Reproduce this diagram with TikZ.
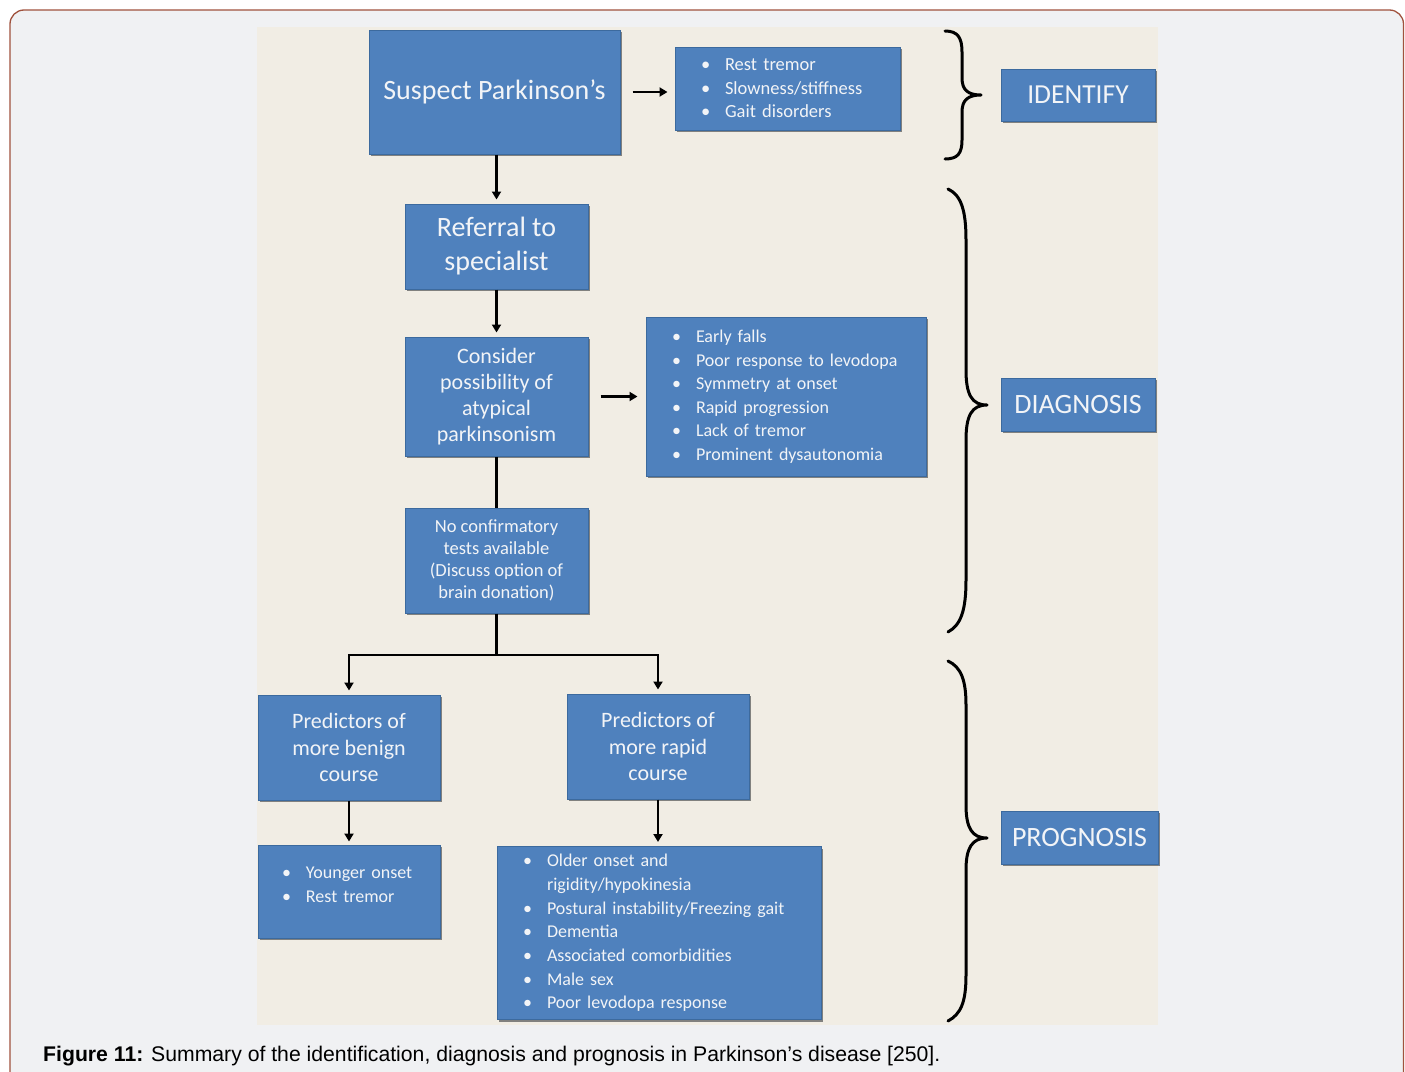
\documentclass[tikz,border=0pt]{standalone}
\usepackage{fontspec}
\setmainfont{Carlito}
\newfontfamily\capfont{Liberation Sans}
\usetikzlibrary{arrows.meta,shadows}
\definecolor{boxblue}{HTML}{4F81BD}
\definecolor{boxedge}{HTML}{3C6A9E}
\definecolor{panel}{HTML}{F1EDE4}
\definecolor{pagebg}{HTML}{F0F1F3}
\definecolor{framecol}{HTML}{A0523D}
\definecolor{boxtext}{HTML}{F2F4F7}
\newcommand{\bul}[1]{\makebox[24pt][l]{•}\mbox{#1}}
\begin{document}
\begin{tikzpicture}[x=1pt,y=-1pt,
  box/.style={draw=boxedge, line width=1pt, fill=boxblue, text=boxtext, align=center, inner sep=3pt,
    drop shadow={shadow xshift=1.5pt,shadow yshift=-2pt,fill=black!60,opacity=0.8}},
  listbox/.style={box, align=left, inner xsep=26pt, inner ysep=3pt},
  arr/.style={line width=2.4pt, -{Triangle[length=8pt,width=9pt]}},
  conn/.style={line width=2.4pt},
  brace/.style={line width=3pt, line cap=round, line join=round}
]
\useasboundingbox (0,0) rectangle (1405,1071);
% page and panel
\draw[framecol, fill=pagebg, line width=1.3pt, rounded corners=14pt] (10,10) rectangle (1403.5,1100);
\fill[panel] (257,27) rectangle (1158,1025);

% nodes
\node[box, minimum width=251, minimum height=124, font=\fontsize{28}{34}\selectfont] (suspect) at (494.5,92) {Suspect Parkinson’s};
\node[listbox, text width=173pt, minimum height=83, font=\fontsize{18.5}{23.5}\selectfont] (sympt) at (787.5,88.5)
  {\bul{Rest tremor}\\\bul{Slowness/stiffness}\\\bul{Gait disorders}};
\node[box, minimum width=154, minimum height=52, font=\fontsize{27.5}{30}\selectfont] (identify) at (1078,95) {IDENTIFY};

\node[box, minimum width=183, minimum height=85, font=\fontsize{28}{34}\selectfont] (referral) at (496.5,246.5) {Referral to\\specialist};
\node[box, minimum width=183, minimum height=119, font=\fontsize{22}{26}\selectfont] (consider) at (496.5,396.5)
  {Consider\\possibility of\\atypical\\parkinsonism};
\node[listbox, text width=228pt, minimum height=159, font=\fontsize{18}{23.5}\selectfont] (atyp) at (786,396.5)
  {\bul{Early falls}\\\bul{Poor response to levodopa}\\\bul{Symmetry at onset}\\\bul{Rapid progression}\\\bul{Lack of tremor}\\\bul{Prominent dysautonomia}};
\node[box, minimum width=154, minimum height=53, font=\fontsize{28}{30}\selectfont] (diagnosis) at (1078,404.5) {DIAGNOSIS};
\node[box, minimum width=183, minimum height=105, font=\fontsize{18.5}{22}\selectfont] (nocon) at (496.5,560.5)
  {No confirmatory\\tests available\\(Discuss option of\\brain donation)};

\node[box, minimum width=182, minimum height=105, font=\fontsize{22}{26.5}\selectfont] (benign) at (349,747.5)
  {Predictors of\\more benign\\course};
\node[box, minimum width=182, minimum height=105, font=\fontsize{22}{26.5}\selectfont] (rapid) at (658,746.5)
  {Predictors of\\more rapid\\course};
\node[box, minimum width=157, minimum height=53, font=\fontsize{28}{30}\selectfont] (prognosis) at (1079.5,837.5) {PROGNOSIS};
\node[listbox, inner xsep=24pt, text width=134pt, minimum height=93, font=\fontsize{18}{23.5}\selectfont] (younger) at (349,891.5)
  {\bul{Younger onset}\\\bul{Rest tremor}\\[-9.5pt]\mbox{}};
\node[listbox, text width=272pt, minimum height=173, font=\fontsize{18}{23.7}\selectfont] (older) at (659,933)
  {\bul{Older onset and}\\\hspace*{24pt}rigidity/hypokinesia\\\bul{Postural instability/Freezing gait}\\\bul{Dementia}\\\bul{Associated comorbidities}\\\bul{Male sex}\\\bul{Poor levodopa response}};

% connectors
\draw[arr, shorten <=12pt, shorten >=7pt] (suspect.east) -- (suspect.east -| sympt.west);
\draw[arr, shorten >=4pt] (referral.north |- suspect.south) -- (referral.north);
\draw[arr, shorten >=4pt] (referral.south) -- (consider.north);
\draw[arr, shorten <=12pt, shorten >=8pt] (consider.east) -- (consider.east -| atyp.west);
\draw[conn] (consider.south) -- (nocon.north);
\coordinate (split) at (499,655);
\draw[arr, shorten >=4pt] (nocon.south) -- (nocon.south |- split) -| (benign.north);
\draw[arr, shorten >=4pt] (nocon.south |- split) -| (rapid.north);
\draw[arr, shorten >=3pt] (benign.south) -- (younger.north);
\draw[arr, shorten >=4pt] (rapid.south) -- (rapid.south |- older.north);

% braces
\draw[brace] (945,31) .. controls (958,31) and (962,38) .. (962,52) -- (962,78)
  .. controls (962,90) and (968,95) .. (981,95)
  .. controls (968,95) and (962,100) .. (962,112) -- (962,140)
  .. controls (962,153) and (958,159) .. (945,159);
\draw[brace] (948,189) .. controls (961,195) and (966,210) .. (966,240) -- (966,370)
  .. controls (966,395) and (972,405) .. (987,405)
  .. controls (972,405) and (966,415) .. (966,440) -- (966,580)
  .. controls (966,610) and (961,625) .. (948,632);
\draw[brace] (948,661) .. controls (961,667) and (966,680) .. (966,705) -- (966,805)
  .. controls (966,828) and (972,838) .. (987,838)
  .. controls (972,838) and (966,848) .. (966,870) -- (966,975)
  .. controls (966,1002) and (961,1014) .. (948,1021);

% caption
\node[anchor=base west, inner sep=0pt, font=\capfont\fontsize{21.2}{25}\selectfont] (caption) at (43,1061)
  {\textbf{Figure 11:} Summary of the identification, diagnosis and prognosis in Parkinson’s disease [250].};
\end{tikzpicture}
\end{document}
